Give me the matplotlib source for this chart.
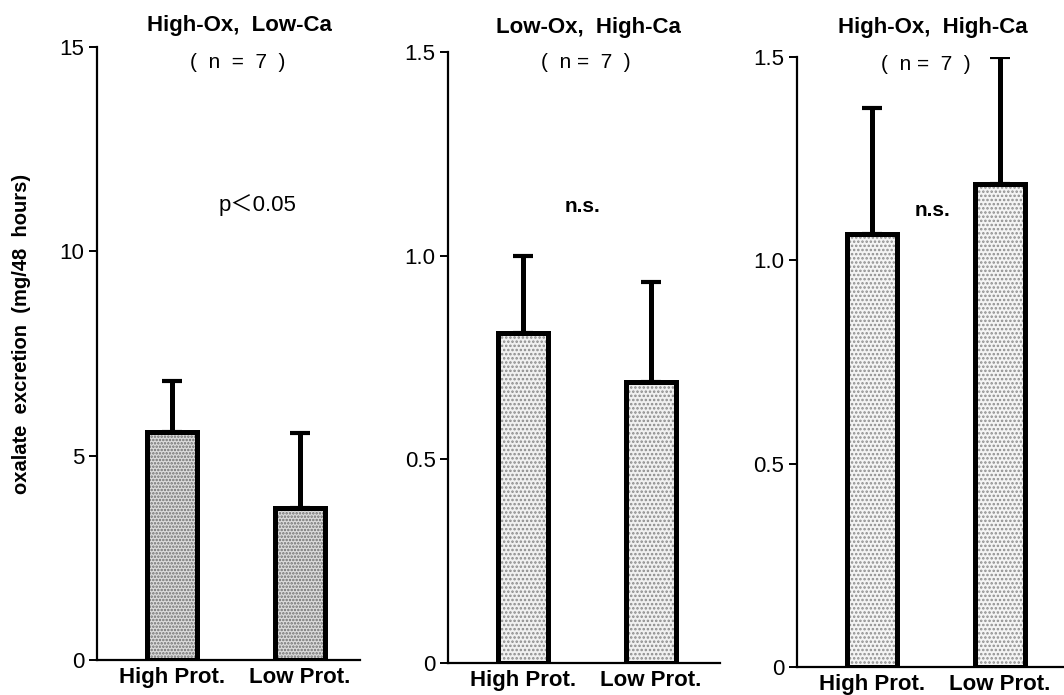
import matplotlib
matplotlib.use("Agg")
import matplotlib.pyplot as plt

plt.rcParams['font.family'] = ['Liberation Sans', 'DejaVu Sans', 'Noto Sans CJK JP']
plt.rcParams['hatch.linewidth'] = 1.2

categories = ["High Prot.", "Low Prot."]
titles = ["High-Ox,  Low-Ca", "Low-Ox,  High-Ca", "High-Ox,  High-Ca"]
n_labels = ["(  n  =  7  )", "(  n =  7  )", "(  n =  7  )"]
stats = ["p\uff1c0.05", "n.s.", "n.s."]

means_p1 = [5.58, 3.72]
errs_p1 = [1.24, 1.83]
means_p2 = [0.81, 0.69]
errs_p2 = [0.19, 0.245]
means_p3 = [1.065, 1.187]
errs_p3 = [0.31, 0.313]

yticks_p1 = [0, 5, 10, 15]
yticklabels_p1 = ["0", "5", "10", "15"]
yticks_p23 = [0, 0.5, 1.0, 1.5]
yticklabels_p23 = ["0", "0.5", "1.0", "1.5"]

means = [means_p1, means_p2, means_p3]
errs = [errs_p1, errs_p2, errs_p3]
ylims = [15, 1.5, 1.5]
yticks = [yticks_p1, yticks_p23, yticks_p23]
yticklabels = [yticklabels_p1, yticklabels_p23, yticklabels_p23]

W, H = 1064, 695
fig = plt.figure(figsize=(W / 100, H / 100), dpi=100)

# pixel boxes: left, right, top, bottom
boxes = [(97, 360, 47, 660), (448, 720, 52, 663), (797, 1064, 57, 667)]
stat_pos = [(257, 205), (583, 207), (932, 210)]
title_pos = [(239, 25), (588, 27), (933, 27)]
n_pos = [(238, 63), (586, 63), (926, 65)]
hatches = ['.....', '....', '....']
fills = ['#dcdcdc', '#f0f0f0', '#f4f4f4']
hatch_cols = ['#6e6e6e', '#8a8a8a', '#8e8e8e']

xlim = (-0.586, 1.47)
x = [0, 1]
bw = 0.39

for i in range(3):
    l, r, t, b = boxes[i]
    ax = fig.add_axes([l / W, 1 - b / H, (r - l) / W, (b - t) / H])
    xr = (xlim[0], xlim[0] + (r - l) / 128.0)
    ax.set_xlim(*xr)
    ax.set_ylim(0, ylims[i])
    ax.bar(x, means[i], width=bw, facecolor=fills[i], edgecolor=hatch_cols[i],
           hatch=hatches[i], linewidth=0, zorder=2)
    ax.bar(x, means[i], width=bw, facecolor='none', edgecolor='black',
           linewidth=3.6, zorder=3)
    ax.errorbar(x, means[i], yerr=[[0, 0], errs[i]], fmt='none', ecolor='black',
                elinewidth=3.6, capsize=7, capthick=3.0, zorder=1)
    for s in ['top', 'right']:
        ax.spines[s].set_visible(False)
    ax.spines['left'].set_linewidth(1.6)
    ax.spines['bottom'].set_linewidth(1.6)
    ax.set_yticks(yticks[i])
    ax.set_yticklabels(yticklabels[i], fontsize=16)
    ax.tick_params(axis='y', direction='out', length=6, width=1.4, pad=3)
    ax.set_xticks(x)
    ax.set_xticklabels(categories, fontsize=16, fontweight='bold')
    ax.tick_params(axis='x', length=0, pad=5)
    ax.patch.set_alpha(0)

    fig.text(title_pos[i][0] / W, 1 - title_pos[i][1] / H, titles[i],
             ha='center', va='center', fontsize=16, fontweight='bold')
    fig.text(n_pos[i][0] / W, 1 - n_pos[i][1] / H, n_labels[i],
             ha='center', va='center', fontsize=15,
             family=['Liberation Sans', 'DejaVu Sans'])
    fig.text(stat_pos[i][0] / W, 1 - stat_pos[i][1] / H, stats[i],
             ha='center', va='center', fontsize=16 if i == 0 else 15,
             fontweight='bold' if i > 0 else 'normal',
             family=['Liberation Sans', 'Noto Sans CJK JP', 'DejaVu Sans'])

fig.text(22 / W, 1 - 334 / H, "oxalate  excretion  (mg/48  hours)", rotation=90,
         ha='center', va='center', fontsize=14.5, fontweight='bold')

fig.savefig("out.png", dpi=100)
